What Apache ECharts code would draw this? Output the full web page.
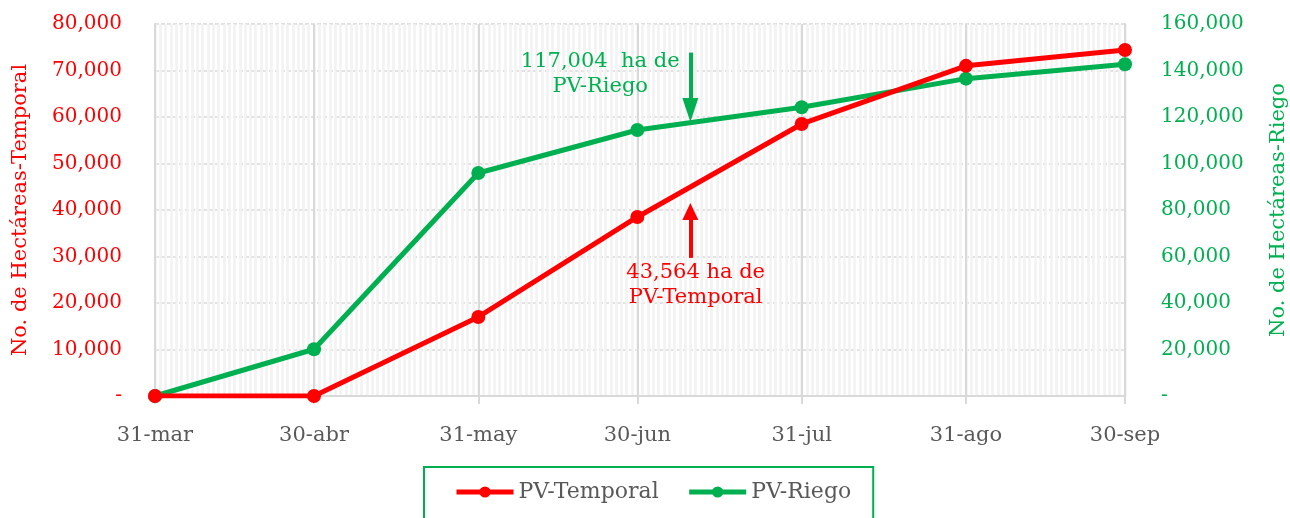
<!DOCTYPE html>
<html>
<head>
<meta charset="utf-8">
<script src="https://cdn.jsdelivr.net/npm/echarts@6/dist/echarts.min.js"></script>
<style>html,body{margin:0;padding:0;background:#fff;overflow:hidden}#c{width:1290px;height:518px}</style>
</head>
<body>
<div id="c"></div>
<script>
// ---- data ----
const fechas = ['2023-03-31','2023-04-30','2023-05-31','2023-06-30','2023-07-31','2023-08-31','2023-09-30'];
const etiquetas = ['31-mar','30-abr','31-may','30-jun','31-jul','31-ago','30-sep'];
const temporal = [0, 0, 17000, 38500, 58500, 71000, 74400];
const riego = [0, 20100, 95900, 114400, 124200, 136500, 142700];
const leftTicks = [0, 80000, 10000];
const rightTicks = [0, 160000, 20000];
const notaRiego = '117,004  ha de\nPV-Riego';
const notaTemporal = '43,564 ha de\nPV-Temporal';

// ---- daily category axis (Excel date axis) ----
const dias = [];
{
  const d0 = new Date(fechas[0] + 'T00:00:00Z');
  const d1 = new Date(fechas[fechas.length - 1] + 'T00:00:00Z');
  for (let t = d0.getTime(); t <= d1.getTime(); t += 86400000) {
    dias.push(new Date(t).toISOString().slice(0, 10));
  }
}
const esFinMes = (i) => fechas.indexOf(dias[i]) >= 0;
const FONT = '"DejaVu Serif", serif';
const RED = '#ff0000', GREEN = '#00b050', GRAY = '#595959', GRID = '#d9d9d9';
const fmt = (v) => v === 0 ? '-' : v.toLocaleString('en-US');

const chart = echarts.init(document.getElementById('c'), null, {renderer: 'canvas', width: 1290, height: 518});
chart.setOption({
  animation: false,
  textStyle: {fontFamily: FONT},
  grid: {left: 155, right: 165, top: 24, bottom: 122, outerBoundsMode: 'none', containLabel: false},
  legend: {
    left: 424, top: 467,
    padding: [14, 22, 20, 30],
    borderColor: GREEN, borderWidth: 2,
    itemWidth: 57, itemHeight: 14, itemGap: 28,
    lineStyle: {width: 5},
    textStyle: {fontFamily: FONT, fontSize: 22, color: GRAY},
    data: ['PV-Temporal', 'PV-Riego']
  },
  xAxis: [{
    type: 'category', data: dias, boundaryGap: false, z: 1,
    axisLine: {lineStyle: {color: GRID, width: 2}},
    axisTick: {show: true, length: 8, interval: esFinMes, lineStyle: {color: GRID, width: 2}},
    axisLabel: {interval: esFinMes, margin: 29, fontFamily: FONT, fontSize: 21, color: GRAY,
      formatter: (v) => etiquetas[fechas.indexOf(v)]},
    splitLine: {show: true, interval: esFinMes, lineStyle: {color: GRID, width: 2}}
  }, {
    type: 'category', data: dias, boundaryGap: false, position: 'bottom', z: 0,
    axisLine: {show: false}, axisTick: {show: false}, axisLabel: {show: false},
    splitLine: {show: true, interval: 0, lineStyle: {color: '#f2f2f2', width: 2.5}}
  }],
  yAxis: [{
    type: 'value', min: leftTicks[0], max: leftTicks[1], interval: leftTicks[2],
    name: 'No. de Hectáreas-Temporal', nameLocation: 'middle', nameGap: 124,
    nameTextStyle: {fontFamily: FONT, fontSize: 21, color: RED},
    axisLine: {show: true, lineStyle: {color: GRID, width: 2}},
    axisTick: {show: false},
    axisLabel: {margin: 33, fontFamily: FONT, fontSize: 20, color: RED, formatter: fmt},
    splitLine: {show: true, lineStyle: {color: GRID, width: 1.5, type: [4, 2]}}
  }, {
    type: 'value', min: rightTicks[0], max: rightTicks[1], interval: rightTicks[2], position: 'right',
    name: 'No. de Hectáreas-Riego', nameLocation: 'middle', nameGap: 143,
    nameTextStyle: {fontFamily: FONT, fontSize: 21, color: GREEN},
    axisLine: {show: true, lineStyle: {color: GRID, width: 2}},
    axisTick: {show: false},
    axisLabel: {margin: 36, fontFamily: FONT, fontSize: 20, color: GREEN, formatter: fmt},
    splitLine: {show: false}
  }],
  series: [{
    name: 'PV-Temporal', type: 'line', yAxisIndex: 0, z: 3,
    data: fechas.map((f, i) => [f, temporal[i]]),
    color: RED, lineStyle: {width: 5, color: RED}, itemStyle: {color: RED},
    symbol: 'circle', symbolSize: 14,
    markLine: {
      silent: true, symbol: ['none', 'triangle'], symbolSize: [16, 17],
      label: {show: false}, lineStyle: {color: RED, width: 4, type: 'solid'},
      data: [[{coord: [101, 29700]}, {coord: [101, 39700]}]]
    },
    markPoint: {
      silent: true, symbol: 'circle', symbolSize: 0,
      label: {show: true, position: 'inside', formatter: notaTemporal, fontFamily: FONT,
        fontSize: 21, lineHeight: 25, color: RED, align: 'center'},
      data: [{coord: [102, 23900]}]
    }
  }, {
    name: 'PV-Riego', type: 'line', yAxisIndex: 1, z: 2,
    data: fechas.map((f, i) => [f, riego[i]]),
    color: GREEN, lineStyle: {width: 5, color: GREEN}, itemStyle: {color: GREEN},
    symbol: 'circle', symbolSize: 14,
    markLine: {
      silent: true, symbol: ['none', 'triangle'], symbolSize: [16, 24],
      label: {show: false}, lineStyle: {color: GREEN, width: 4, type: 'solid'},
      data: [[{coord: [101, 147700]}, {coord: [101, 123000]}]]
    },
    markPoint: {
      silent: true, symbol: 'circle', symbolSize: 0,
      label: {show: true, position: 'inside', formatter: notaRiego, fontFamily: FONT,
        fontSize: 21, lineHeight: 25, color: GREEN, align: 'center'},
      data: [{coord: [84, 138500]}]
    }
  }]
});
</script>
</body>
</html>
